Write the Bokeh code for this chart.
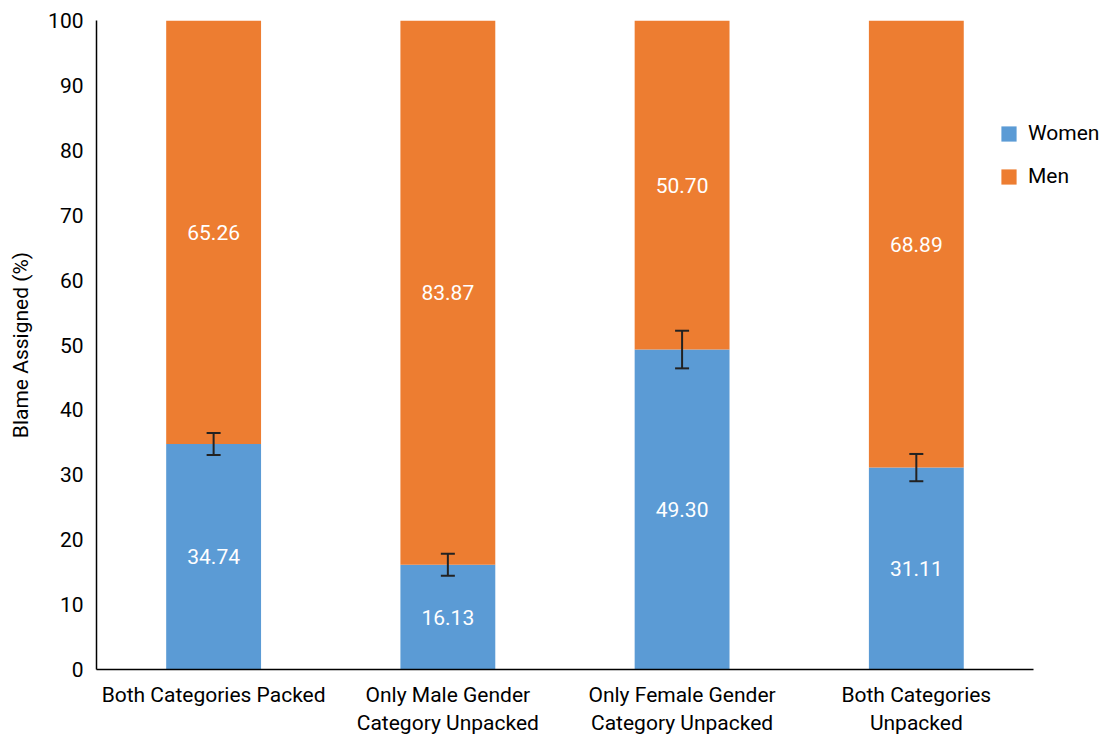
from bokeh.plotting import figure
from bokeh.models import (ColumnDataSource, Whisker, Legend, LegendItem,
                          FixedTicker, Range1d)
from bokeh.embed import file_html
from bokeh.resources import INLINE
from bokeh.core.properties import value

conditions = [
    "Both Categories Packed",
    "Only Male Gender\nCategory Unpacked",
    "Only Female Gender\nCategory Unpacked",
    "Both Categories\nUnpacked",
]
women = [34.74, 16.13, 49.30, 31.11]
men = [65.26, 83.87, 50.70, 68.89]
women_err = [1.7, 1.7, 2.9, 2.1]

FONT = "Roboto"
FS = "21px"
BLUE = "#5B9BD5"
ORANGE = "#ED7D31"

# numeric slots for the conditions: 0.5, 1.5, ...
xpos = [i + 0.5 for i in range(len(conditions))]

src = ColumnDataSource(dict(
    x=xpos,
    women=women,
    men=men,
    total=[w + m for w, m in zip(women, men)],
    women_mid=[w / 2 for w in women],
    men_mid=[w + m / 2 for w, m in zip(women, men)],
    women_lbl=[f"{w:.2f}" for w in women],
    men_lbl=[f"{m:.2f}" for m in men],
    lo=[w - e for w, e in zip(women, women_err)],
    hi=[w + e for w, e in zip(women, women_err)],
))

# extra room on the right of the last slot holds the legend
p = figure(x_range=Range1d(0, 4.282), y_range=(0, 100), width=1099, height=738,
           output_backend="svg", toolbar_location=None,
           min_border_left=96, min_border_right=0, min_border_top=20,
           min_border_bottom=69)
p.outline_line_color = None
p.grid.visible = False

w_r = p.vbar(x="x", top="women", bottom=0, width=0.405, source=src,
             fill_color=BLUE, line_color=None)
m_r = p.vbar(x="x", top="total", bottom="women", width=0.405, source=src,
             fill_color=ORANGE, line_color=None)

whisk = Whisker(base="x", lower="lo", upper="hi", source=src,
                line_color="#222222", line_width=2, level="overlay")
for head in (whisk.upper_head, whisk.lower_head):
    head.size = 14
    head.line_color = "#222222"
    head.line_width = 2
p.add_layout(whisk)

for ycol, tcol in (("women_mid", "women_lbl"), ("men_mid", "men_lbl")):
    p.text(x="x", y=ycol, text=tcol, source=src, text_color="white",
           text_font=value(FONT), text_font_size=FS,
           text_align="center", text_baseline="middle")

p.xaxis.ticker = FixedTicker(ticks=xpos)
p.xaxis.major_label_overrides = {x: c for x, c in zip(xpos, conditions)}
p.xaxis.bounds = (0, len(conditions))
p.yaxis.ticker = FixedTicker(ticks=list(range(0, 101, 10)))
p.yaxis.axis_label = "Blame Assigned (%)"
for ax in (p.xaxis[0], p.yaxis[0]):
    ax.major_tick_line_color = None
    ax.minor_tick_line_color = None
    ax.axis_line_color = "black"
    ax.axis_line_width = 1.5
    ax.major_label_text_font = FONT
    ax.major_label_text_font_size = FS
    ax.major_label_text_color = "black"
p.yaxis.axis_label_text_font = FONT
p.yaxis.axis_label_text_font_size = FS
p.yaxis.axis_label_text_font_style = "normal"
p.yaxis.axis_label_text_color = "black"
p.yaxis.axis_label_standoff = 12
p.yaxis.major_label_standoff = 7
p.xaxis.major_label_standoff = 7

legend = Legend(items=[LegendItem(label="Women", renderers=[w_r]),
                       LegendItem(label="Men", renderers=[m_r])],
                location=(903, 481), background_fill_alpha=0,
                border_line_color=None, label_text_font=FONT,
                label_text_font_size=FS, label_text_color="black",
                glyph_width=19, glyph_height=19,
                spacing=19, label_standoff=10, padding=0, margin=0)
p.add_layout(legend)

open("out.html", "w").write(file_html(p, INLINE))
